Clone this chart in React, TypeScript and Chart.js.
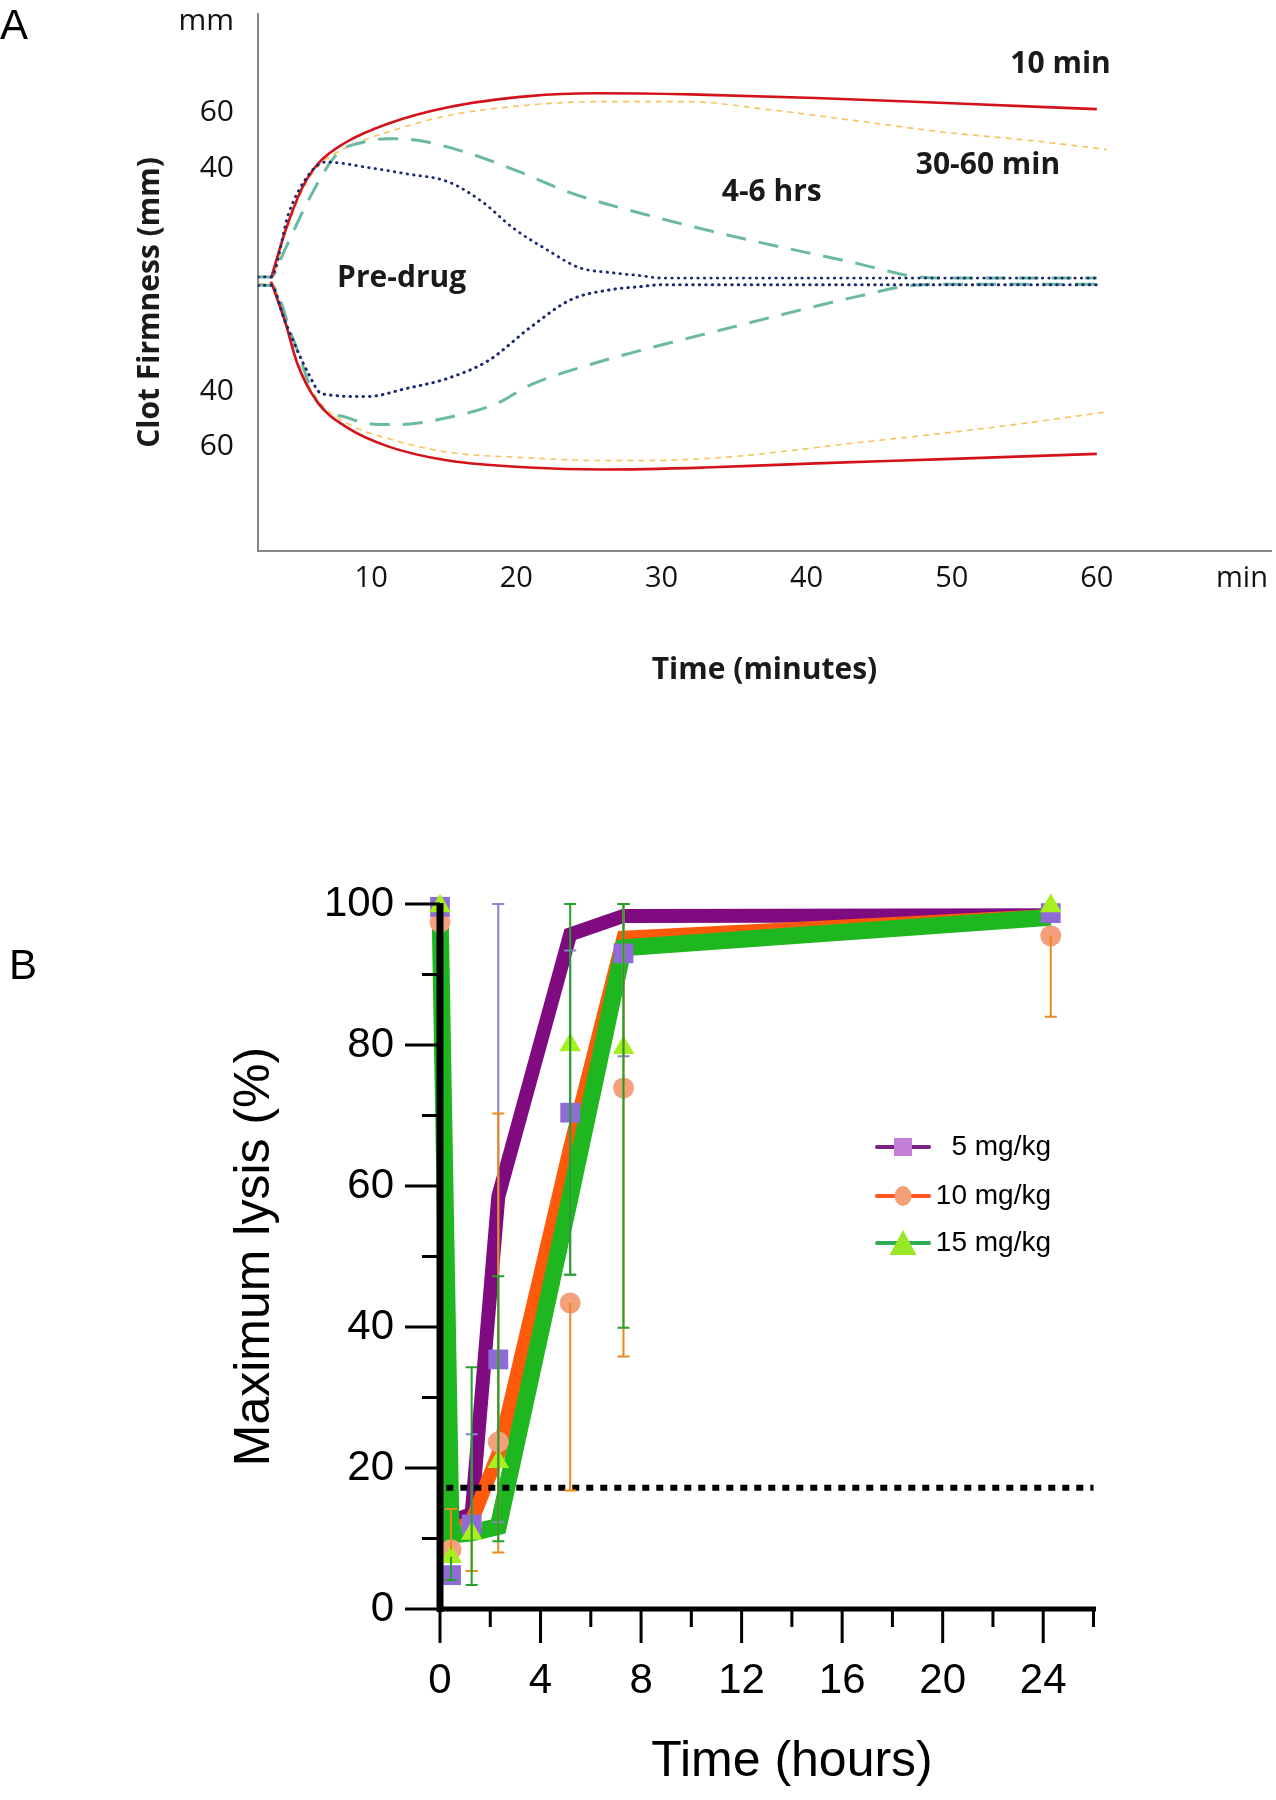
import React, { useEffect, useRef } from 'react';
import { Chart, registerables } from 'chart.js';

Chart.register(...registerables);

type Pt = [number, number];

// ---------------- Panel A: clot firmness traces (minutes, mm) ----------------
const redUpper: Pt[] = [[3.1, 0.5], [4.05, 17], [5.2, 32.5], [6.3, 41.5], [8.3, 49.5], [11.1, 56], [15.3, 62], [20.9, 66], [25.5, 67], [32, 66.6], [40.6, 65.3], [50, 63.4], [60, 61.3]];
const redLower: Pt[] = [[3.1, -0.7], [4.05, -14.8], [4.9, -30], [6.3, -44], [8.3, -53], [11.1, -59.8], [15.3, -65], [20.9, -67.5], [26, -68.2], [33, -67.5], [40.6, -66], [50, -64.4], [60, -62.6]];
const orangeUpper: Pt[] = [[2.2, 1], [3.1, 1], [4.05, 16], [5.2, 31.5], [6.3, 40.5], [8.3, 47.5], [11.1, 53], [15.3, 59], [20.9, 62.8], [25.7, 64], [31.7, 64], [37.6, 61], [43.6, 57], [49.5, 53], [55.5, 50], [60.7, 46.8]];
const orangeLower: Pt[] = [[2.2, -1.5], [3.1, -1.5], [4.05, -14], [4.9, -29], [6.3, -43], [8.3, -51.5], [11.1, -57], [15.3, -62], [20.9, -64], [25.7, -65], [29, -65], [34.6, -63.7], [43.6, -58.5], [52.5, -53.3], [60.7, -47.5]];
const tealUpper: Pt[] = [[2.2, 1], [3.1, 1], [4.05, 10.8], [5.7, 28.8], [7.7, 45.5], [9.5, 49.5], [11.1, 50.7], [13.3, 50], [16.7, 45.5], [20.1, 39], [23.7, 31.3], [28.5, 24], [34.6, 16], [43.6, 5.7], [47.4, 1.2], [50, 0.6], [60, 0.6]];
const tealLower: Pt[] = [[2.2, -2], [3.1, -2], [4.6, -21], [6.3, -44], [8.3, -49.5], [10.5, -52], [12.1, -52], [15.3, -49.5], [18.7, -44.4], [20.9, -38], [25.2, -30.3], [28.5, -25.5], [34.6, -17.4], [43.6, -5.9], [47.4, -2], [50, -1.6], [60, -1.6]];
const navyUpper: Pt[] = [[2.2, 1], [3.1, 1], [4.3, 23.7], [5.7, 37.8], [6.9, 42.3], [9.7, 40.4], [12.5, 38], [15.3, 35.2], [17.6, 28.2], [19.8, 18.5], [22.1, 10.8], [24.3, 4.4], [26.6, 2.5], [28.5, 1.5], [30, 0.6], [60, 0.6]];
const navyLower: Pt[] = [[2.2, -2], [3.1, -2], [4.05, -14.8], [5.7, -34], [6.6, -41], [9.7, -42], [12.5, -39], [15.3, -35.4], [18.1, -29], [20.9, -17.4], [23.75, -7.2], [26.6, -3.5], [28.5, -2.5], [30, -1.8], [60, -1.8]];

const xTickValuesA = [10, 20, 30, 40, 50, 60, 70];
const xTickLabelsA = ['10', '20', '30', '40', '50', '60', 'min'];
const yTickValuesA = [-60, -40, 40, 60, 93];
const yTickLabelsA = ['60', '40', '40', '60', 'mm'];

const annotationTextsA = ['10 min', '30-60 min', '4-6 hrs', 'Pre-drug'];
const annotationMinutesA = [57.5, 52.5, 37.6, 12.1];
const annotationMmA = [77.3, 41, 31.3, 0.4];

// ---------------- Panel B: maximum lysis (hours, %) ----------------
const hours = [0, 0.44, 1.26, 2.32, 5.18, 7.3, 24.3];
const line5 = [100, 12.4, 13.5, 58.5, 95.7, 98.3, 98.4];
const line10 = [100, 11, 12.5, 22, 65.5, 95.2, 98.3];
const line15 = [100, 10.5, 10.8, 11.7, 58.5, 93.8, 98.1];
const mean5 = [99.6, 4.8, 12, 35.4, 70.4, 93, 98.7];
const mean10 = [97.4, 8.4, 11.9, 23.7, 43.4, 73.9, 95.5];
const mean15 = [99.7, 7.4, 10.7, 20.9, 80, 79.6, 99.7];
const err5High = [null, null, 24.8, 100, 93.4, 100, null];
const err5Low = [null, null, null, 12.3, 47.4, 78.4, null];
const err10High = [null, 14.2, null, 70.3, null, 100, null];
const err10Low = [null, null, 5.4, 8.0, 16.8, 35.8, 84];
const err15High = [null, null, 34.3, 47.2, 100, 100, null];
const err15Low = [null, 4.1, 3.4, 9.6, 47.4, 39.9, null];
const thresholdHours = [0.25, 26];
const thresholdLysis = [17.2, 17.2];
const seriesNames = ['5 mg/kg', '10 mg/kg', '15 mg/kg'];
const xTickValuesB = [0, 4, 8, 12, 16, 20, 24];
const xMinorTicksB = [2, 6, 10, 14, 18, 22, 26];
const yTickValuesB = [0, 20, 40, 60, 80, 100];
const yMinorTicksB = [10, 30, 50, 70, 90];

const FONT_A = "'Open Sans', 'DejaVu Sans', sans-serif";
const FONT_B = "'Liberation Sans', Arial, sans-serif";

const toXY = (pts: Pt[]) => pts.map(([x, y]) => ({ x, y }));
const zipXY = (xs: number[], ys: number[]) => xs.map((x, i) => ({ x, y: ys[i] }));

function buildChartA(canvas: HTMLCanvasElement) {
  const styles = [
    { pts: navyUpper, color: '#1b2a72', width: 2.8, dash: [0.5, 6], cap: 'round', order: 0 },
    { pts: navyLower, color: '#1b2a72', width: 3, dash: [0.5, 6], cap: 'round', order: 0 },
    { pts: redUpper, color: '#d3121c', width: 2.6, dash: [], cap: 'butt', order: 1 },
    { pts: redLower, color: '#d3121c', width: 2.6, dash: [], cap: 'butt', order: 1 },
    { pts: tealUpper, color: '#6cb9a3', width: 3, dash: [20, 13], cap: 'butt', order: 2 },
    { pts: tealLower, color: '#6cb9a3', width: 3, dash: [20, 13], cap: 'butt', order: 2 },
    { pts: orangeUpper, color: '#f6c35e', width: 1.6, dash: [6, 5], cap: 'butt', order: 3 },
    { pts: orangeLower, color: '#f6c35e', width: 1.6, dash: [6, 5], cap: 'butt', order: 3 },
  ];

  const annotations = {
    id: 'annotA',
    afterDatasetsDraw(chart: any) {
      const { ctx, scales, chartArea } = chart;
      ctx.save();
      ctx.fillStyle = '#1a1a1a';
      ctx.font = `bold 30px ${FONT_A}`;
      ctx.textAlign = 'center';
      ctx.textBaseline = 'middle';
      annotationTextsA.forEach((t, i) => {
        ctx.fillText(t, scales.x.getPixelForValue(annotationMinutesA[i]), scales.y.getPixelForValue(annotationMmA[i]));
      });
      // y-axis title (sits a little below the axis middle in the original)
      ctx.save();
      ctx.translate(150, (chartArea.top + chartArea.bottom) / 2 + 20);
      ctx.rotate(-Math.PI / 2);
      ctx.font = `bold 30px ${FONT_A}`;
      ctx.fillText('Clot Firmness (mm)', 0, 0);
      ctx.restore();
      // panel letter
      ctx.font = `42px ${FONT_B}`;
      ctx.textAlign = 'left';
      ctx.textBaseline = 'alphabetic';
      ctx.fillStyle = '#000';
      ctx.fillText('A', 0, 39);
      ctx.restore();
    },
  };

  return new Chart(canvas, {
    type: 'line',
    data: {
      datasets: styles.map((s) => ({
        data: toXY(s.pts),
        borderColor: s.color,
        borderWidth: s.width,
        borderDash: s.dash,
        borderCapStyle: s.cap as any,
        pointRadius: 0,
        fill: false,
        tension: 0.4,
        cubicInterpolationMode: 'monotone' as const,
        order: s.order,
      })),
    },
    options: {
      responsive: false,
      animation: false,
      events: [],
      layout: { padding: { left: 0, right: 5, top: 14, bottom: 0 } },
      plugins: { legend: { display: false }, tooltip: { enabled: false } },
      scales: {
        x: {
          type: 'linear',
          min: 2.2,
          max: 72,
          grid: { display: false },
          border: { display: true, color: '#858585', width: 2 },
          afterBuildTicks: (s: any) => { s.ticks = xTickValuesA.map((v) => ({ value: v })); },
          afterFit: (s: any) => { s.height = 169; s.paddingLeft = 0; s.paddingRight = 0; },
          ticks: {
            callback: (_v: any, i: number) => xTickLabelsA[i],
            color: '#111',
            font: { family: FONT_A, size: 29 },
            padding: 2,
            maxRotation: 0,
            autoSkip: false,
          },
          title: {
            display: true,
            text: 'Time (minutes)',
            color: '#1a1a1a',
            font: { family: FONT_A, size: 30, weight: 'bold' },
            padding: { top: 0, bottom: 32 },
          },
        },
        y: {
          type: 'linear',
          min: -97.5,
          max: 95.5,
          grid: { display: false },
          border: { display: true, color: '#858585', width: 2 },
          afterBuildTicks: (s: any) => { s.ticks = yTickValuesA.map((v) => ({ value: v })); },
          afterFit: (s: any) => { s.width = 258; s.paddingTop = 0; s.paddingBottom = 0; },
          ticks: {
            callback: (_v: any, i: number) => yTickLabelsA[i],
            color: '#111',
            font: { family: FONT_A, size: 30 },
            padding: 16,
            autoSkip: false,
          },
        },
      },
    },
    plugins: [annotations],
  } as any);
}

function buildChartB(canvas: HTMLCanvasElement) {
  const lineColors = ['#800a80', '#ff5a0a', '#1fb71f'];
  const lineWidths = [14, 14, 17];
  const markerColors = ['#8f6bd8', '#f4a07c', '#a6f01e'];
  const markerStyles = ['rect', 'circle', 'triangle'];
  const markerRadii = [14, 10.5, 12.5];
  const errColors = ['#8a80d0', '#e88a1c', '#22a22a'];
  const legendLineColors = ['#7a2080', '#ff5522', '#33aa55'];
  const legendMarkerColors = ['#c27fd5', '#f4a173', '#99e628'];
  const lines = [line5, line10, line15];
  const means = [mean5, mean10, mean15];
  const errHigh = [err5High, err10High, err15High];
  const errLow = [err5Low, err10Low, err15Low];

  const datasets: any[] = [];
  lines.forEach((ln, i) => {
    datasets.push({
      data: zipXY(hours, ln),
      borderColor: lineColors[i],
      borderWidth: lineWidths[i],
      pointRadius: 0,
      tension: 0,
      fill: false,
      clip: false,
      borderJoinStyle: 'miter',
      order: 6 - i,
    });
  });
  datasets.push({
    data: zipXY(thresholdHours, thresholdLysis),
    borderColor: '#000',
    borderWidth: 6,
    borderDash: [7, 7],
    pointRadius: 0,
    fill: false,
    clip: false,
    order: 3,
  });
  const markerOrder = [1, 2, 0];
  means.forEach((m, i) => {
    datasets.push({
      data: zipXY(hours, m),
      showLine: false,
      pointStyle: markerStyles[i],
      pointRadius: markerRadii[i],
      pointBackgroundColor: markerColors[i],
      pointBorderColor: markerColors[i],
      pointBorderWidth: 0,
      clip: false,
      order: markerOrder[i],
    });
  });

  const decor = {
    id: 'decorB',
    afterDatasetsDraw(chart: any) {
      const { ctx, scales } = chart;
      const { x, y } = scales;
      ctx.save();
      ctx.lineWidth = 2;
      errColors.forEach((c, s) => {
        ctx.strokeStyle = c;
        hours.forEach((h, i) => {
          const px = x.getPixelForValue(h);
          const pm = y.getPixelForValue(means[s][i]);
          [errHigh[s][i], errLow[s][i]].forEach((end) => {
            if (end === null || end === undefined) return;
            const pe = y.getPixelForValue(end);
            ctx.beginPath();
            ctx.moveTo(px, pm);
            ctx.lineTo(px, pe);
            ctx.moveTo(px - 6, pe);
            ctx.lineTo(px + 6, pe);
            ctx.stroke();
          });
        });
      });
      ctx.restore();
    },
    afterDraw(chart: any) {
      const { ctx, scales, chartArea } = chart;
      const { x, y } = scales;
      ctx.save();
      // axis lines drawn over the data, as in the original
      ctx.strokeStyle = '#000';
      ctx.lineWidth = 7;
      ctx.beginPath();
      ctx.moveTo(chartArea.left, chartArea.top - 1);
      ctx.lineTo(chartArea.left, chartArea.bottom + 3);
      ctx.stroke();
      ctx.lineWidth = 5;
      ctx.beginPath();
      ctx.moveTo(chartArea.left, chartArea.bottom);
      ctx.lineTo(chartArea.right, chartArea.bottom);
      ctx.stroke();
      // tick marks
      ctx.lineWidth = 3;
      ctx.beginPath();
      yTickValuesB.forEach((v) => { const p = y.getPixelForValue(v); ctx.moveTo(chartArea.left - 35, p); ctx.lineTo(chartArea.left, p); });
      yMinorTicksB.forEach((v) => { const p = y.getPixelForValue(v); ctx.moveTo(chartArea.left - 18, p); ctx.lineTo(chartArea.left, p); });
      xTickValuesB.forEach((v) => { const p = x.getPixelForValue(v); ctx.moveTo(p, chartArea.bottom); ctx.lineTo(p, chartArea.bottom + 34); });
      xMinorTicksB.forEach((v) => { const p = x.getPixelForValue(v); ctx.moveTo(p, chartArea.bottom); ctx.lineTo(p, chartArea.bottom + 18); });
      ctx.stroke();
      // x axis title
      ctx.fillStyle = '#000';
      ctx.font = `50px ${FONT_B}`;
      ctx.textAlign = 'center';
      ctx.textBaseline = 'middle';
      ctx.fillText('Time (hours)', 792, 1042);
      // panel letter
      ctx.font = `42px ${FONT_B}`;
      ctx.textAlign = 'left';
      ctx.textBaseline = 'alphabetic';
      ctx.fillText('B', 9, 259);
      // legend
      const rows = [427, 476, 523];
      seriesNames.forEach((name, i) => {
        const ry = rows[i];
        ctx.strokeStyle = legendLineColors[i];
        ctx.lineWidth = 4;
        ctx.lineCap = 'round';
        ctx.beginPath();
        ctx.moveTo(877, ry);
        ctx.lineTo(929, ry);
        ctx.stroke();
        ctx.fillStyle = legendMarkerColors[i];
        ctx.beginPath();
        if (markerStyles[i] === 'rect') {
          ctx.rect(894, ry - 9, 18, 18);
        } else if (markerStyles[i] === 'circle') {
          ctx.ellipse(903, ry, 8.5, 10, 0, 0, Math.PI * 2);
        } else {
          ctx.moveTo(903, ry - 13);
          ctx.lineTo(916.5, ry + 12);
          ctx.lineTo(889.5, ry + 12);
          ctx.closePath();
        }
        ctx.fill();
        ctx.fillStyle = '#000';
        ctx.font = `28px ${FONT_B}`;
        ctx.textAlign = 'right';
        ctx.textBaseline = 'middle';
        ctx.fillText(name, 1051, ry);
      });
      ctx.restore();
    },
  };

  return new Chart(canvas, {
    type: 'line',
    data: { datasets },
    options: {
      responsive: false,
      animation: false,
      events: [],
      layout: { padding: { left: 0, right: 180, top: 184, bottom: 0 } },
      plugins: { legend: { display: false }, tooltip: { enabled: false } },
      scales: {
        x: {
          type: 'linear',
          min: 0,
          max: 26.1,
          grid: { display: false },
          border: { display: false },
          afterBuildTicks: (s: any) => { s.ticks = xTickValuesB.map((v) => ({ value: v })); },
          afterFit: (s: any) => { s.height = 191; s.paddingLeft = 0; s.paddingRight = 0; },
          ticks: {
            color: '#000',
            font: { family: FONT_B, size: 42 },
            padding: 39,
            maxRotation: 0,
            autoSkip: false,
          },
        },
        y: {
          type: 'linear',
          min: 0,
          max: 100,
          grid: { display: false },
          border: { display: false },
          afterBuildTicks: (s: any) => { s.ticks = yTickValuesB.map((v) => ({ value: v })); },
          afterFit: (s: any) => { s.width = 440; s.paddingTop = 0; s.paddingBottom = 0; },
          ticks: {
            color: '#000',
            font: { family: FONT_B, size: 42 },
            padding: 38,
            autoSkip: false,
          },
          title: {
            display: true,
            text: 'Maximum lysis (%)',
            color: '#000',
            font: { family: FONT_B, size: 50 },
            padding: { top: 225, bottom: 0 },
          },
        },
      },
    },
    plugins: [decor],
  } as any);
}

export default function App() {
  const refA = useRef<HTMLCanvasElement>(null);
  const refB = useRef<HTMLCanvasElement>(null);

  useEffect(() => {
    document.body.style.margin = '0';
    const a = buildChartA(refA.current!);
    const b = buildChartB(refB.current!);
    return () => {
      a.destroy();
      b.destroy();
    };
  }, []);

  return (
    <div style={{ position: 'relative', width: 1276, height: 1800, background: '#fff' }}>
      <canvas ref={refA} width={1276} height={720} style={{ position: 'absolute', left: 0, top: 0, width: 1276, height: 720 }} />
      <canvas ref={refB} width={1276} height={1080} style={{ position: 'absolute', left: 0, top: 720, width: 1276, height: 1080 }} />
    </div>
  );
}
